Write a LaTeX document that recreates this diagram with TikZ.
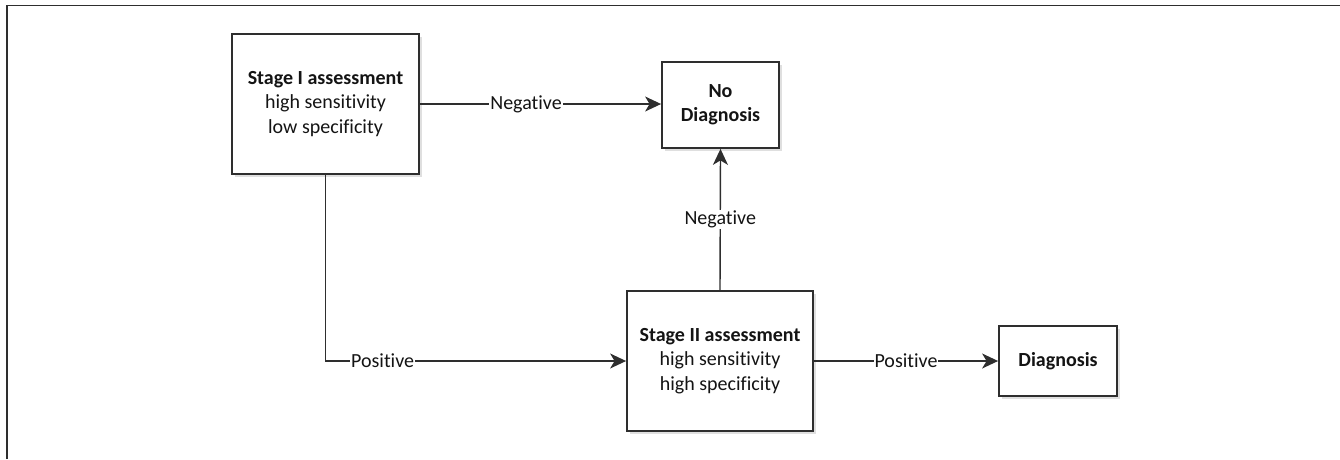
\documentclass[tikz,border=0pt]{standalone}
\usepackage{fontspec}
\setmainfont{Carlito}[Ligatures=NoCommon]
\usetikzlibrary{arrows.meta,shadows}
\definecolor{linec}{HTML}{2E2E2E}
\definecolor{textc}{HTML}{141414}
\tikzset{
  box/.style={draw=linec, line width=1.8pt, fill=white, align=center, text=textc,
    font=\fontsize{20}{24.4}\selectfont, inner sep=0pt,
    drop shadow={shadow xshift=2.5pt, shadow yshift=-2.5pt, opacity=0.25, fill=gray}},
  conn/.style={draw=linec, line width=1.4pt},
  arr/.style={conn, -{Stealth[length=16pt, width=15pt, inset=4.5pt]}},
  lbl/.style={fill=white, inner sep=1pt, text=textc, font=\fontsize{20}{24}\selectfont},
}
\begin{document}
\begin{tikzpicture}[x=1pt,y=-1pt]
\useasboundingbox (0,0) rectangle (1340,459);
\draw[draw=linec, line width=1.8pt] (7,459) -- (7,5.5) -- (1340,5.5);
\node[box, minimum width=187pt, minimum height=140pt] (s1) at (325.5,104) {\textbf{Stage I assessment}\\high sensitivity\\low specificity};
\node[box, minimum width=117pt, minimum height=86pt] (nod) at (720.5,105) {\textbf{No}\\\textbf{Diagnosis}};
\node[box, minimum width=186pt, minimum height=140pt] (s2) at (720,361) {\textbf{Stage II assessment}\\high sensitivity\\high specificity};
\node[box, minimum width=118pt, minimum height=70pt] (dia) at (1058,361) {\textbf{Diagnosis}};
\draw[arr] (s1.east) -- node[lbl, pos=0.44] {Negative} (s1.east -| nod.west);
\draw[arr] (s1.south) |- node[lbl, pos=0.595] {Positive} (s2.west);
\draw[arr] (s2.north) -- node[lbl, midway] {Negative} (nod.south);
\draw[arr] (s2.east) -- node[lbl, midway] {Positive} (dia.west);
\end{tikzpicture}
\end{document}
